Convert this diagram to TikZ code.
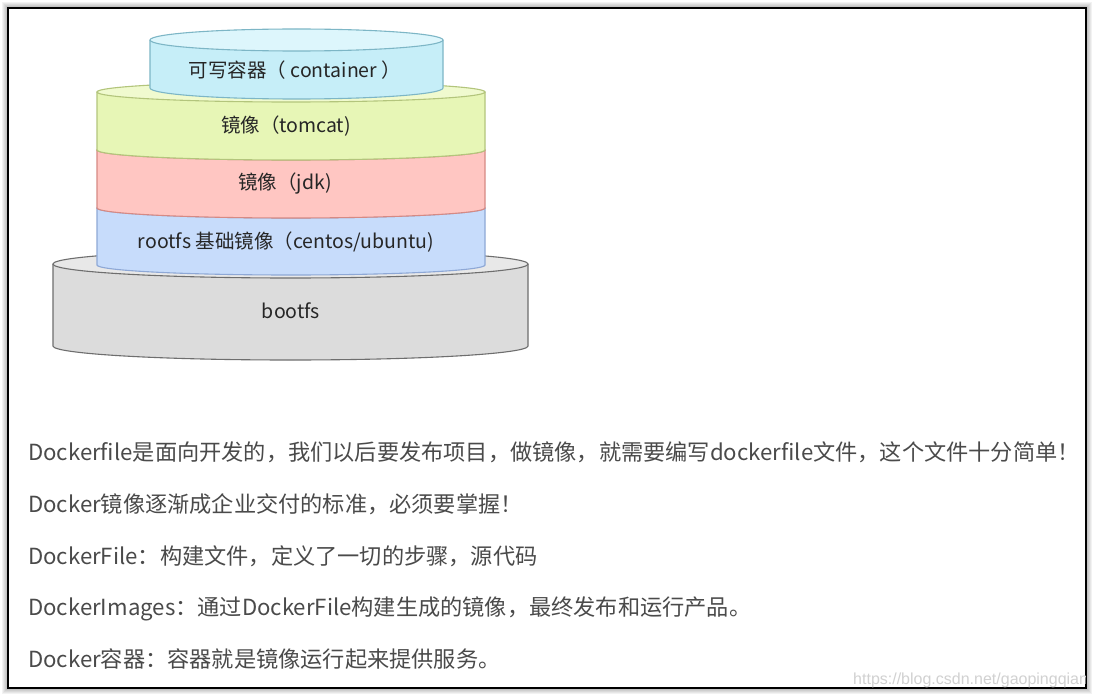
\documentclass[tikz,border=0pt]{standalone}
\usepackage{fontspec}
\setmainfont{Noto Sans CJK SC}
\newfontfamily\wmfont{Liberation Sans}
\usetikzlibrary{calc, math}

\definecolor{cyanfill}{HTML}{C6EEF8}
\definecolor{cyantop}{HTML}{DDF6FC}
\definecolor{cyanline}{HTML}{7DB6C6}
\definecolor{greenfill}{HTML}{E7F6B6}
\definecolor{greentop}{HTML}{F0FACF}
\definecolor{greenline}{HTML}{B3C57C}
\definecolor{redfill}{HTML}{FFC6C2}
\definecolor{redtop}{HTML}{FFD8D5}
\definecolor{redline}{HTML}{D68A84}
\definecolor{bluefill}{HTML}{C7DCFB}
\definecolor{bluetop}{HTML}{D9E7FD}
\definecolor{blueline}{HTML}{8EA8D6}
\definecolor{grayfill}{HTML}{DCDCDC}
\definecolor{graytop}{HTML}{E8E8E8}
\definecolor{grayline}{HTML}{6E6E6E}
\definecolor{bodytext}{HTML}{4A4A4A}

% one disc of the stack: centre x, top y, bottom y, x radius, y radius, colour
\newcommand\disc[6]{
\fill[#6fill] (#1-#4,#2) -- (#1-#4,#3) arc[start angle=180, end angle=0, x radius=#4, y radius=#5]
      -- (#1+#4,#2) arc[start angle=0, end angle=-180, x radius=#4, y radius=#5] -- cycle;
\draw[#6line, line width=1.1pt] (#1-#4,#2) -- (#1-#4,#3) arc[start angle=180, end angle=0, x radius=#4, y radius=#5] -- (#1+#4,#2);
\draw[#6line, fill=#6top, line width=1.1pt] (#1,#2) ellipse[x radius=#4, y radius=#5];
}

\begin{document}
\begin{tikzpicture}[x={(1pt,0)}, y={(0,-1pt)},
  lab/.style={font=\fontsize{19.5}{19.5}\selectfont, text=black!85, inner sep=0pt},
  para/.style={anchor=west, font=\fontsize{22.2}{22.2}\selectfont, text=bodytext,
    inner sep=0pt, text height=0.8em, text depth=0.2em}]

\useasboundingbox (0,0) rectangle (1095,698);

% frame with soft shadow
\foreach \i in {1,...,6}
  \draw[black, opacity=0.05, line width=2*\i pt] (8,8) rectangle (1086,688);
\fill[white] (8,8) rectangle (1086,688);
\draw[black, line width=1.2pt] (8,8) rectangle (1086,688);

\tikzmath{
  \cx = 291; \rx = 194; \ry = 10;
}

\disc{290.5}{264}{346}{237.5}{14}{gray}
\disc{\cx}{208}{265}{\rx}{\ry}{blue}
\disc{\cx}{150}{208}{\rx}{\ry}{red}
\disc{\cx}{92}{150}{\rx}{\ry}{green}
\disc{296.5}{40}{88}{146.5}{11}{cyan}

\node[lab] (container) at (295,70) {可写容器（ container ）};
\node[lab] (tomcat) at (286,126) {镜像（tomcat)};
\node[lab] (jdk) at (285,184) {镜像（jdk)};
\node[lab] (rootfs) at (286,242) {rootfs 基础镜像（centos/ubuntu)};
\node[lab] (bootfs) at (291,311) {bootfs};

\node[para] (l1) at (28,457) {Dockerfile是面向开发的，我们以后要发布项目，做镜像，就需要编写dockerfile文件，这个文件十分简单！};
\node[para] (l2) at (28,509) {Docker镜像逐渐成企业交付的标准，必须要掌握！};
\node[para] (l3) at (28,561) {DockerFile：构建文件，定义了一切的步骤，源代码};
\node[para] (l4) at (28,612) {DockerImages：通过DockerFile构建生成的镜像，最终发布和运行产品。};
\node[para] (l5) at (28,664) {Docker容器：容器就是镜像运行起来提供服务。};

\begin{scope}
\clip (8,8) rectangle (1085,687);
\node[anchor=west, inner sep=0pt, text=black!18, font=\wmfont\fontsize{16}{16}\selectfont] (wm) at (853,680) {https://blog.csdn.net/gaopingqiang};
\end{scope}

\end{tikzpicture}
\end{document}
